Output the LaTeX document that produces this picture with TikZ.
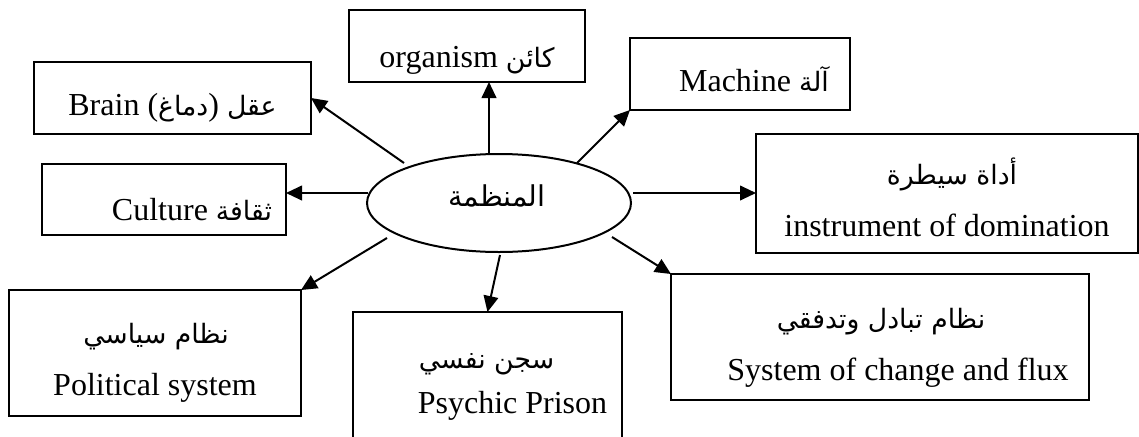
\documentclass[tikz,border=0pt]{standalone}
\usepackage{fontspec}
\setmainfont{Liberation Serif}
\newfontfamily\arabicfont[Script=Arabic]{DejaVu Sans}
\TeXXeTstate=1
\usetikzlibrary{arrows.meta,shapes.geometric}

% Arabic words, set right to left
\newcommand\arabtxt[1]{{\arabicfont\fontsize{20}{24}\selectfont\beginR #1\endR}}

\tikzset{
  frame/.style={draw, line width=1.5pt, rectangle, inner sep=0pt, outer sep=0pt},
  hub/.style={draw, line width=1.5pt, ellipse, inner sep=0pt, outer sep=0pt,
              minimum width=198pt, minimum height=73.5pt},
  lbl/.style={anchor=base, inner sep=0pt, font=\fontsize{24}{28}\selectfont},
  link/.style={line width=1.5pt, -{Triangle[length=12pt,width=11pt]}},
}

\begin{document}
\begin{tikzpicture}[x=0.75pt, y=-0.75pt]
  \useasboundingbox (0,0) rectangle (1139,436);
  \clip (0,0) rectangle (1139,436);
  \fill[white] (0,0) rectangle (1139,436);

  % central ellipse
  \node[hub] (org) at (499,203) {};
  \node[anchor=base, inner sep=0pt] (orgtxt) at (497,206)
       {{\arabicfont\fontsize{21.5}{25}\selectfont\beginR المنظمة\endR}};

  % surrounding boxes
  \node[frame, minimum width=177pt,    minimum height=54pt]    (organism)   at (467,46)    {};
  \node[frame, minimum width=207.75pt, minimum height=54pt]    (brain)      at (172.5,98)  {};
  \node[frame, minimum width=183pt,    minimum height=53.25pt] (culture)    at (164,199.5) {};
  \node[frame, minimum width=165pt,    minimum height=54pt]    (machine)    at (740,74)    {};
  \node[frame, minimum width=286.5pt,  minimum height=89.25pt] (instrument) at (947,193.5) {};
  \node[frame, minimum width=313.5pt,  minimum height=94.5pt]  (system)     at (880,337)   {};
  \node[frame, minimum width=219pt,    minimum height=94.5pt]  (political)  at (155,353)   {};
  \node[frame, minimum width=201.75pt, minimum height=103.5pt] (psychic)    at (487.5,381) {};

  % box texts
  \node[lbl] (organismtxt) at ([shift={(0,21)}]organism.center) {organism \arabtxt{كائن}};
  \node[lbl] (braintxt) at ([shift={(0,17)}]brain.center) {Brain (\arabtxt{دماغ}) \arabtxt{عقل}};
  \node[lbl] (culturetxt) at ([shift={(28,21)}]culture.center) {Culture \arabtxt{ثقافة}};
  \node[lbl] (machinetxt) at ([shift={(14,17)}]machine.center) {Machine \arabtxt{آلة}};
  \node[lbl] (instrumentar) at ([shift={(5,-9)}]instrument.center) {\arabtxt{أداة سيطرة}};
  \node[lbl] (instrumenten) at ([shift={(0,43)}]instrument.center) {instrument of domination};
  \node[lbl] (systemar) at ([shift={(1,-9)}]system.center) {\arabtxt{نظام تبادل وتدفقي}};
  \node[lbl] (systemen) at ([shift={(18,43)}]system.center) {System of change and flux};
  \node[lbl] (politicalar) at ([shift={(1,-10)}]political.center) {\arabtxt{نظام سياسي}};
  \node[lbl] (politicalen) at ([shift={(0,42)}]political.center) {Political system};
  \node[lbl] (psychicar) at ([shift={(-1,-13)}]psychic.center) {\arabtxt{سجن نفسي}};
  \node[lbl] (psychicen) at ([shift={(25,32)}]psychic.center) {Psychic Prison};

  % connectors from the ellipse
  \draw[link] ([shift={(-95,-40)}]org.center) -- (brain.east);
  \draw[link] ([shift={(-10,-48)}]org.center) coordinate (upstart) -- (upstart |- organism.south);
  \draw[link] ([shift={(78,-40)}]org.center) -- (machine.south west);
  \draw[link] ([shift={(-131,-10)}]org.center) coordinate (lstart) -- (lstart -| culture.east);
  \draw[link] ([shift={(134,-10)}]org.center) coordinate (rstart) -- (rstart -| instrument.west);
  \draw[link] ([shift={(-112,35)}]org.center) -- (political.north east);
  \draw[link] ([shift={(1,52)}]org.center) -- (psychic.north);
  \draw[link] ([shift={(113,34)}]org.center) -- (system.north west);
\end{tikzpicture}
\end{document}
